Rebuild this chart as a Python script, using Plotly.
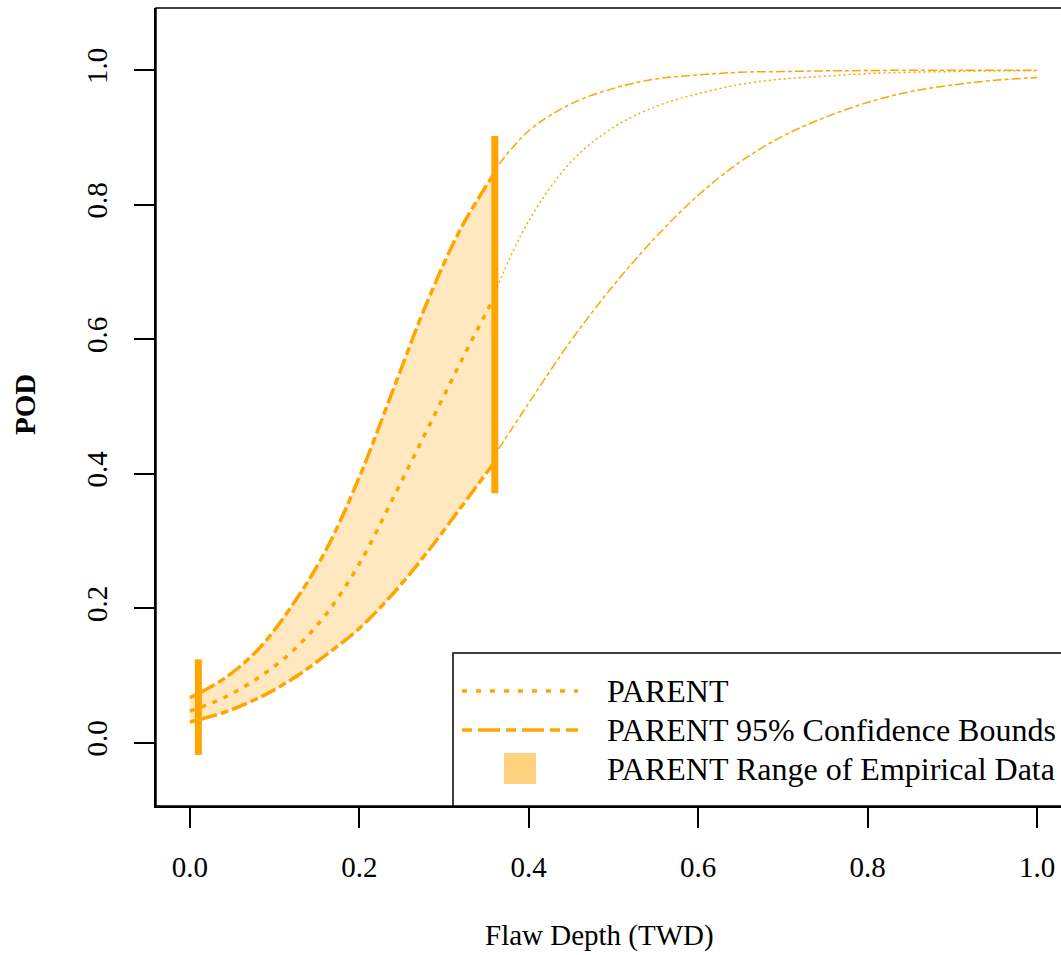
import plotly.graph_objects as go

# ---------------- data ----------------
# Range of empirical data (thick segments)
x_in = [0.00, 0.04, 0.08, 0.12, 0.16, 0.20, 0.24, 0.28, 0.32, 0.36]
pod_in = [0.047, 0.067, 0.096, 0.135, 0.190, 0.266, 0.364, 0.465, 0.567, 0.664]
upper_in = [0.067, 0.095, 0.138, 0.203, 0.285, 0.395, 0.525, 0.655, 0.765, 0.848]
lower_in = [0.031, 0.045, 0.066, 0.094, 0.130, 0.170, 0.222, 0.283, 0.350, 0.418]

# Extrapolated part (thin segments)
x_out = [0.36, 0.40, 0.45, 0.50, 0.55, 0.60, 0.65, 0.70, 0.75, 0.80, 0.85, 0.90, 0.95, 1.00]
pod_out = [0.670, 0.776, 0.864, 0.915, 0.946, 0.965, 0.979, 0.987, 0.991, 0.995, 0.997, 0.998, 0.999, 0.999]
upper_out = [0.852, 0.910, 0.950, 0.973, 0.987, 0.993, 0.997, 0.998, 0.999, 0.9995, 1.0, 1.0, 1.0, 1.0]
lower_out = [0.428, 0.505, 0.598, 0.680, 0.752, 0.814, 0.864, 0.902, 0.930, 0.952, 0.968, 0.978, 0.985, 0.989]

# Vertical bars marking the empirical data range
bar_x = [0.01, 0.36]
bar_low = [-0.018, 0.371]
bar_high = [0.124, 0.902]

x_ticks = [0.0, 0.2, 0.4, 0.6, 0.8, 1.0]
y_ticks = [0.0, 0.2, 0.4, 0.6, 0.8, 1.0]

legend_labels = ["PARENT", "PARENT 95% Confidence Bounds", "PARENT Range of Empirical Data"]

# ---------------- styling ----------------
ORANGE = "#FFA500"
FILL = "rgba(255,165,0,0.25)"
LEGFILL = "rgba(255,165,0,0.5)"
FONT = "Liberation Serif, Times New Roman, serif"

W, H = 1061, 955
ML, MR, MT, MB = 156, 0, 8, 149
PW = W - ML - MR
PH = H - MT - MB


def px_x(p):
    return (p - ML) / PW


def px_y(p):
    return (H - MB - p) / PH


fig = go.Figure()

# band between bounds over empirical range
fig.add_trace(go.Scatter(x=x_in, y=lower_in, mode="lines", line=dict(width=0, shape="spline"),
                         hoverinfo="skip", showlegend=False))
fig.add_trace(go.Scatter(x=x_in, y=upper_in, mode="lines", line=dict(width=0, shape="spline"),
                         fill="tonexty", fillcolor=FILL, hoverinfo="skip", showlegend=False))

thick_dot = "5px,7px"
thick_dash = "8px,4px,16px,4px"
thin_dot = "2px,3px"
thin_dash = "4px,3px,9px,3px"

# thin extrapolated curves
fig.add_trace(go.Scatter(x=x_out, y=pod_out, mode="lines", showlegend=False,
                         line=dict(color=ORANGE, width=1.5, dash=thin_dot, shape="spline")))
fig.add_trace(go.Scatter(x=x_out, y=upper_out, mode="lines", showlegend=False,
                         line=dict(color=ORANGE, width=1.5, dash=thin_dash, shape="spline")))
fig.add_trace(go.Scatter(x=x_out, y=lower_out, mode="lines", showlegend=False,
                         line=dict(color=ORANGE, width=1.5, dash=thin_dash, shape="spline")))

# thick curves over empirical range
fig.add_trace(go.Scatter(x=x_in, y=pod_in, mode="lines", name=legend_labels[0], showlegend=False,
                         line=dict(color=ORANGE, width=3.5, dash=thick_dot, shape="spline")))
fig.add_trace(go.Scatter(x=x_in, y=upper_in, mode="lines", name=legend_labels[1], showlegend=False,
                         line=dict(color=ORANGE, width=3.5, dash=thick_dash, shape="spline")))
fig.add_trace(go.Scatter(x=x_in, y=lower_in, mode="lines", showlegend=False,
                         line=dict(color=ORANGE, width=3.5, dash=thick_dash, shape="spline")))

# vertical range bars
bx, by = [], []
for xv, lo, hi in zip(bar_x, bar_low, bar_high):
    bx += [xv, xv, None]
    by += [lo, hi, None]
fig.add_trace(go.Scatter(x=bx, y=by, mode="lines", showlegend=False,
                         line=dict(color=ORANGE, width=7)))

axis_common = dict(
    showgrid=False, zeroline=False, showline=True, linecolor="black", linewidth=1.5,
    ticks="outside", ticklen=20, tickwidth=1.5, tickcolor="black",
    tickformat=".1f", tickfont=dict(family=FONT, size=29, color="black"),
)

fig.update_xaxes(range=[-0.04, (W - MR - 190) / 847.0], tickvals=x_ticks,
                 ticklabelstandoff=14, **axis_common)
fig.update_yaxes(range=[-0.094, 1.0925], tickvals=y_ticks, tickangle=-90,
                 ticklabelstandoff=16, **axis_common)

shapes = [
    # plot box (right side extends beyond the visible page)
    dict(type="rect", xref="paper", yref="paper", x0=0, x1=1.05, y0=0, y1=1,
         line=dict(color="black", width=1.5), fillcolor="rgba(0,0,0,0)", layer="above"),
    # legend box
    dict(type="rect", xref="paper", yref="paper", x0=px_x(453), x1=1.05, y0=0, y1=px_y(653),
         line=dict(color="black", width=1.5), fillcolor="white", layer="above"),
    # legend samples
    dict(type="line", xref="paper", yref="paper", x0=px_x(462), x1=px_x(578),
         y0=px_y(691), y1=px_y(691), line=dict(color=ORANGE, width=3.5, dash="5px,9px"), layer="above"),
    dict(type="line", xref="paper", yref="paper", x0=px_x(462), x1=px_x(578),
         y0=px_y(730), y1=px_y(730), line=dict(color=ORANGE, width=3.5, dash="10px,6px,22px,6px"),
         layer="above"),
    dict(type="rect", xref="paper", yref="paper", x0=px_x(504), x1=px_x(536),
         y0=px_y(784), y1=px_y(753), line=dict(width=0), fillcolor=LEGFILL, layer="above"),
]

annotations = [
    dict(text="Flaw Depth (TWD)", xref="paper", yref="paper", x=px_x(599), y=px_y(935),
         xanchor="center", yanchor="middle", showarrow=False,
         font=dict(family=FONT, size=29, color="black")),
    dict(text="<b>POD</b>", xref="paper", yref="paper", x=px_x(25), y=px_y(405),
         xanchor="center", yanchor="middle", showarrow=False, textangle=-90,
         font=dict(family=FONT, size=29, color="black")),
]
for lab, yy in zip(legend_labels, [691, 730, 769]):
    annotations.append(dict(text=lab, xref="paper", yref="paper", x=px_x(605), y=px_y(yy),
                            xanchor="left", yanchor="middle", showarrow=False,
                            font=dict(family=FONT, size=32, color="black")))

fig.update_layout(
    width=W, height=H, margin=dict(l=ML, r=MR, t=MT, b=MB),
    plot_bgcolor="white", paper_bgcolor="white", showlegend=False,
    shapes=shapes, annotations=annotations,
)

fig.write_html("out.html")
